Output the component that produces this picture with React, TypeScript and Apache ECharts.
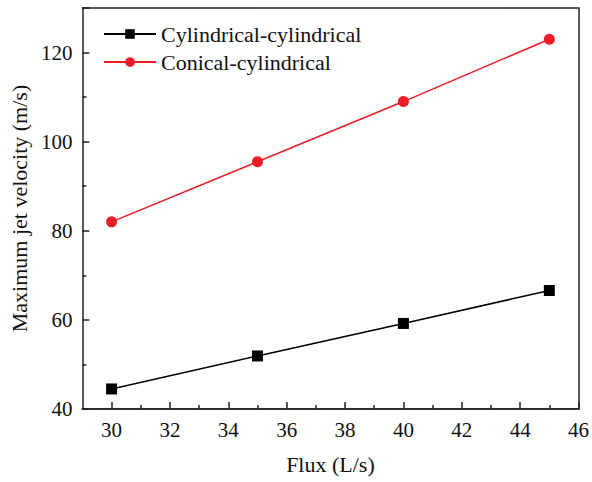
import React, { useEffect, useRef } from "react";
import * as echarts from "echarts";

const flux = [30, 35, 40, 45];
const cylCyl = [44.5, 51.9, 59.2, 66.6];
const conCyl = [82.0, 95.5, 109.0, 123.0];
const seriesNames = ["Cylindrical-cylindrical", "Conical-cylindrical"];
const xMajor = [30, 32, 34, 36, 38, 40, 42, 44, 46];
const xMinor = [31, 33, 35, 37, 39, 41, 43, 45];

const FONT = "Times New Roman, Liberation Serif, serif";

export default function App() {
  const ref = useRef<HTMLDivElement>(null);
  useEffect(() => {
    const chart = echarts.init(ref.current!, null, { renderer: "svg" });
    const line = { show: true, onZero: false, lineStyle: { color: "#222", width: 1.5 } };
    chart.setOption({
      animation: false,
      backgroundColor: "#fff",
      textStyle: { fontFamily: FONT },
      grid: { left: 82, right: 11, top: 8, bottom: 73, show: false },
      legend: {
        orient: "vertical",
        left: 103,
        top: 23,
        padding: 0,
        itemWidth: 52,
        itemHeight: 12,
        itemGap: 6,
        textStyle: { fontFamily: FONT, fontSize: 22, color: "#111" },
        data: seriesNames,
      },
      xAxis: [
        {
          type: "value",
          min: 29,
          max: 46,
          name: "Flux (L/s)",
          nameLocation: "middle",
          nameGap: 44,
          nameTextStyle: { fontFamily: FONT, fontSize: 22, color: "#111" },
          axisLine: line,
          splitLine: { show: false },
          axisTick: {
            show: true,
            inside: true,
            length: 7,
            customValues: xMajor,
            lineStyle: { color: "#222", width: 1.5 },
          },
          axisLabel: {
            fontFamily: FONT,
            fontSize: 21,
            color: "#111",
            margin: 10,
            customValues: xMajor,
          },
        },
        {
          type: "value",
          min: 29,
          max: 46,
          position: "bottom",
          axisLine: line,
          splitLine: { show: false },
          axisLabel: { show: false },
          axisTick: {
            show: true,
            inside: true,
            length: 4,
            customValues: xMinor,
            lineStyle: { color: "#222", width: 1.5 },
          },
        },
        {
          type: "value",
          min: 29,
          max: 46,
          position: "top",
          axisLine: line,
          splitLine: { show: false },
          axisLabel: { show: false },
          axisTick: { show: false },
        },
      ],
      yAxis: [
        {
          type: "value",
          min: 40,
          max: 130,
          interval: 20,
          name: "Maximum jet velocity (m/s)",
          nameLocation: "middle",
          nameGap: 46,
          nameTextStyle: { fontFamily: FONT, fontSize: 22, color: "#111" },
          axisLine: line,
          splitLine: { show: false },
          axisTick: { show: true, inside: true, length: 7, lineStyle: { color: "#222", width: 1.5 } },
          minorTick: { show: true, splitNumber: 2, length: 4, lineStyle: { color: "#222", width: 1.5 } },
          axisLabel: {
            fontFamily: FONT,
            fontSize: 21,
            color: "#111",
            margin: 10,
            showMaxLabel: false,
          },
        },
        {
          type: "value",
          min: 40,
          max: 130,
          position: "right",
          axisLine: line,
          splitLine: { show: false },
          axisLabel: { show: false },
          axisTick: { show: false },
        },
      ],
      series: [
        {
          name: seriesNames[0],
          type: "line",
          data: flux.map((x, i) => [x, cylCyl[i]]),
          symbol: "rect",
          symbolSize: 11,
          color: "#000",
          lineStyle: { color: "#000", width: 1.5 },
          itemStyle: { color: "#000" },
          z: 3,
        },
        {
          name: seriesNames[1],
          type: "line",
          data: flux.map((x, i) => [x, conCyl[i]]),
          symbol: "circle",
          symbolSize: 11,
          color: "#ec1c24",
          lineStyle: { color: "#ec1c24", width: 1.5 },
          itemStyle: { color: "#ec1c24" },
          z: 3,
        },
      ],
    });
    return () => chart.dispose();
  }, []);
  return (
    <div
      ref={ref}
      style={{ position: "absolute", left: 0, top: 0, width: 592, height: 482 }}
    />
  );
}
